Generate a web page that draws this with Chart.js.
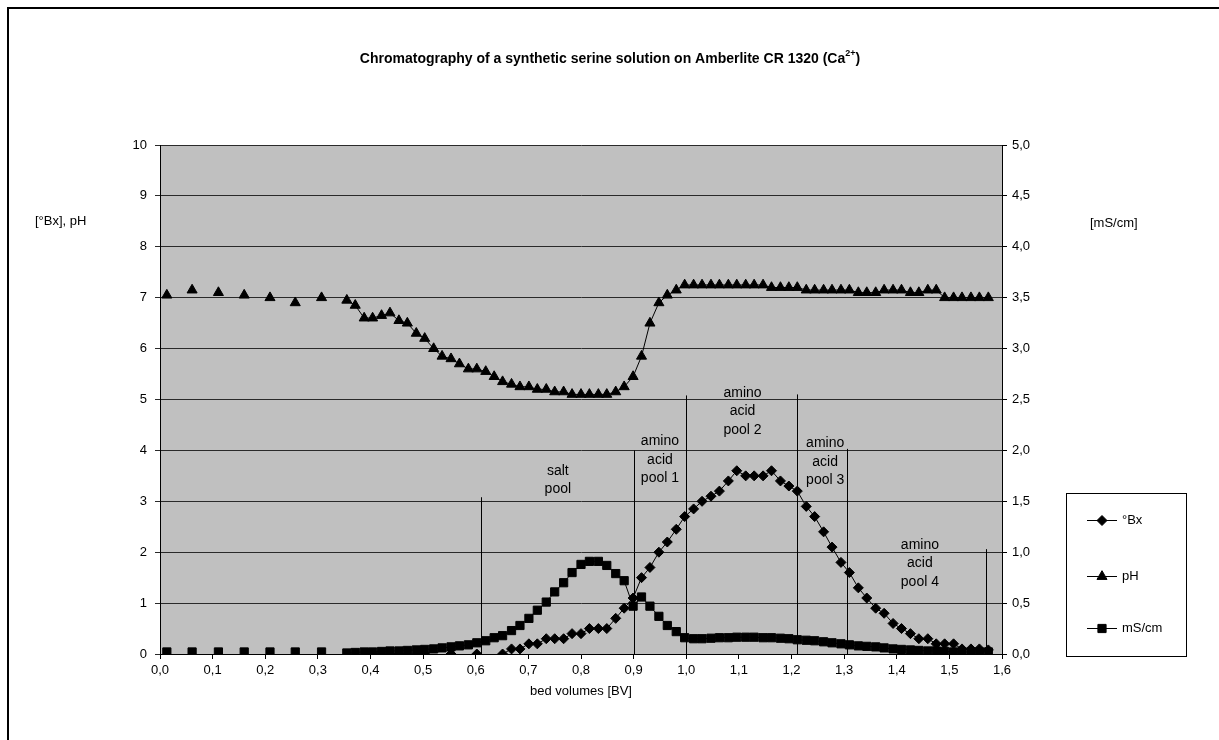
<!DOCTYPE html>
<html>
<head>
<meta charset="utf-8">
<script src="https://cdn.jsdelivr.net/npm/chart.js@4.4.1/dist/chart.umd.min.js"></script>
<style>
  html, body { margin: 0; padding: 0; background: #fff; overflow: hidden; }
  #frame { position: absolute; left: 7px; top: 7px; width: 1300px; height: 800px; border: 2px solid #000; }
  #wrap { position: absolute; left: 0; top: 0; width: 1219px; height: 740px; }
</style>
</head>
<body>
<div id="frame"></div>
<div id="wrap"><canvas id="chromChart" width="1219" height="740"></canvas></div>
<script>
// early single samples (not connected)
const earlyBV = [0.013, 0.061, 0.111, 0.160, 0.209, 0.257, 0.307];
const earlyPH = [7.05, 7.15, 7.1, 7.05, 7.0, 6.9, 7.0];
const earlyMS = [0.02, 0.02, 0.02, 0.02, 0.02, 0.02, 0.02];

// fraction samples
const bedVolumes = [
  0.355, 0.371, 0.388, 0.404, 0.421, 0.437, 0.454, 0.470, 0.487, 0.503,
  0.520, 0.536, 0.553, 0.569, 0.586, 0.602, 0.619, 0.635, 0.651, 0.668,
  0.684, 0.701, 0.717, 0.734, 0.750, 0.767, 0.783, 0.800, 0.816, 0.833,
  0.849, 0.866, 0.882, 0.899, 0.915, 0.931, 0.948, 0.964, 0.981, 0.997,
  1.014, 1.030, 1.047, 1.063, 1.080, 1.096, 1.113, 1.129, 1.146, 1.162,
  1.179, 1.195, 1.211, 1.228, 1.244, 1.261, 1.277, 1.294, 1.310, 1.327,
  1.343, 1.360, 1.376, 1.393, 1.409, 1.426, 1.442, 1.459, 1.475, 1.491,
  1.508, 1.524, 1.541, 1.557, 1.574
];
const bxValues = [
  null, null, null, 0, null, null, 0, null, null, 0,
  null, null, 0, null, null, 0, null, null, 0, 0.1,
  0.1, 0.2, 0.2, 0.3, 0.3, 0.3, 0.4, 0.4, 0.5, 0.5,
  0.5, 0.7, 0.9, 1.1, 1.5, 1.7, 2.0, 2.2, 2.45, 2.7,
  2.85, 3.0, 3.1, 3.2, 3.4, 3.6, 3.5, 3.5, 3.5, 3.6,
  3.4, 3.3, 3.2, 2.9, 2.7, 2.4, 2.1, 1.8, 1.6, 1.3,
  1.1, 0.9, 0.8, 0.6, 0.5, 0.4, 0.3, 0.3, 0.2, 0.2,
  0.2, 0.1, 0.1, 0.1, 0.08
];
const phValues = [
  6.95, 6.85, 6.6, 6.6, 6.65, 6.7, 6.55, 6.5, 6.3, 6.2,
  6.0, 5.85, 5.8, 5.7, 5.6, 5.6, 5.55, 5.45, 5.35, 5.3,
  5.25, 5.25, 5.2, 5.2, 5.15, 5.15, 5.1, 5.1, 5.1, 5.1,
  5.1, 5.15, 5.25, 5.45, 5.85, 6.5, 6.9, 7.05, 7.15, 7.25,
  7.25, 7.25, 7.25, 7.25, 7.25, 7.25, 7.25, 7.25, 7.25, 7.2,
  7.2, 7.2, 7.2, 7.15, 7.15, 7.15, 7.15, 7.15, 7.15, 7.1,
  7.1, 7.1, 7.15, 7.15, 7.15, 7.1, 7.1, 7.15, 7.15, 7.0,
  7.0, 7.0, 7.0, 7.0, 7.0
];
const msValues = [
  0.01, 0.015, 0.02, 0.02, 0.025, 0.03, 0.03, 0.035, 0.04, 0.045,
  0.05, 0.06, 0.07, 0.08, 0.09, 0.11, 0.13, 0.16, 0.18, 0.23,
  0.28, 0.35, 0.43, 0.51, 0.61, 0.70, 0.80, 0.88, 0.91, 0.91,
  0.87, 0.79, 0.72, 0.47, 0.56, 0.47, 0.37, 0.28, 0.22, 0.16,
  0.15, 0.15, 0.155, 0.16, 0.16, 0.165, 0.165, 0.165, 0.16, 0.16,
  0.155, 0.15, 0.14, 0.135, 0.13, 0.12, 0.11, 0.10, 0.09, 0.08,
  0.075, 0.07, 0.06, 0.05, 0.045, 0.04, 0.035, 0.03, 0.03, 0.025,
  0.02, 0.02, 0.02, 0.02, 0.02
];

// pool boundaries (BV) and how high the marker line goes (left axis units)
const poolBounds = [0.61, 0.9, 1.0, 1.21, 1.305, 1.57];
const poolBoundTops = [3.08, 4.0, 5.08, 5.1, 4.03, 2.06];
const poolLabels = [['salt', 'pool'], ['amino', 'acid', 'pool 1'], ['amino', 'acid', 'pool 2'], ['amino', 'acid', 'pool 3'], ['amino', 'acid', 'pool 4']];
const poolLabelX = [0.756, 0.95, 1.107, 1.264, 1.444];
const poolLabelY = [3.6, 4.18, 5.13, 4.14, 2.14];

const FONT = '"Liberation Sans", Arial, sans-serif';

function toPoints(xs, ys) {
  return xs.map((x, i) => ({ x: x, y: ys[i] }));
}
const comma = (v, d) => Number(v).toFixed(d).replace('.', ',');

// hide connecting lines between the sparse early samples
const gapSegment = {
  borderColor: c => (c.p1.parsed.x - c.p0.parsed.x > 0.03 ? 'rgba(0,0,0,0)' : '#000')
};

const plotBg = {
  id: 'plotBg',
  beforeDraw(chart) {
    const a = chart.chartArea, ctx = chart.ctx;
    ctx.save();
    ctx.fillStyle = '#c0c0c0';
    ctx.fillRect(a.left, a.top, a.right - a.left, a.bottom - a.top);
    ctx.restore();
  }
};

const poolMarks = {
  id: 'poolMarks',
  afterDatasetsDraw(chart) {
    const ctx = chart.ctx, xs = chart.scales.x, ys = chart.scales.y;
    ctx.save();
    ctx.strokeStyle = '#000';
    ctx.lineWidth = 1;
    poolBounds.forEach((b, i) => {
      const px = Math.round(xs.getPixelForValue(b)) + 0.5;
      ctx.beginPath();
      ctx.moveTo(px, ys.getPixelForValue(0));
      ctx.lineTo(px, ys.getPixelForValue(poolBoundTops[i]));
      ctx.stroke();
    });
    ctx.fillStyle = '#000';
    ctx.font = '14px ' + FONT;
    ctx.textAlign = 'center';
    ctx.textBaseline = 'middle';
    poolLabels.forEach((lines, i) => {
      const px = xs.getPixelForValue(poolLabelX[i]);
      const py = ys.getPixelForValue(poolLabelY[i]);
      lines.forEach((t, j) => ctx.fillText(t, px, py + j * 18.5));
    });
    ctx.restore();
  }
};

const texts = {
  id: 'texts',
  afterDraw(chart) {
    const ctx = chart.ctx;
    ctx.save();
    ctx.fillStyle = '#000';
    ctx.textBaseline = 'alphabetic';
    // title with superscript
    const main = 'Chromatography of a synthetic serine solution on Amberlite CR 1320 (Ca';
    ctx.font = 'bold 14px ' + FONT;
    const w1 = ctx.measureText(main).width;
    const w3 = ctx.measureText(')').width;
    ctx.font = 'bold 9px ' + FONT;
    const w2 = ctx.measureText('2+').width;
    let x = 610 - (w1 + w2 + w3) / 2;
    const y = 63;
    ctx.font = 'bold 14px ' + FONT;
    ctx.textAlign = 'left';
    ctx.fillText(main, x, y);
    ctx.font = 'bold 9px ' + FONT;
    ctx.fillText('2+', x + w1, y - 7);
    ctx.font = 'bold 14px ' + FONT;
    ctx.fillText(')', x + w1 + w2, y);

    // axis titles
    ctx.font = '13px ' + FONT;
    ctx.textBaseline = 'middle';
    ctx.fillText('[°Bx], pH', 35, 221);
    ctx.fillText('[mS/cm]', 1090, 223);
    ctx.textAlign = 'center';
    const a = chart.chartArea;
    ctx.fillText('bed volumes [BV]', (a.left + a.right) / 2, 691);

    // legend
    ctx.strokeStyle = '#000';
    ctx.lineWidth = 1;
    ctx.fillStyle = '#fff';
    ctx.fillRect(1066.5, 493.5, 120, 163);
    ctx.strokeRect(1066.5, 493.5, 120, 163);
    const rows = [520, 576, 628];
    chart.data.datasets.forEach((ds, i) => {
      const ly = rows[i] + 0.5;
      ctx.strokeStyle = '#000';
      ctx.beginPath();
      ctx.moveTo(1087, ly);
      ctx.lineTo(1117, ly);
      ctx.stroke();
      ctx.fillStyle = '#000';
      Chart.helpers.drawPoint(ctx, { pointStyle: ds.pointStyle, radius: ds.pointRadius, rotation: 0, borderWidth: 1 }, 1102, ly);
      ctx.textAlign = 'left';
      ctx.font = '13px ' + FONT;
      ctx.fillText(ds.label, 1122, ly);
    });
    ctx.restore();
  }
};

const bxPoints = toPoints(bedVolumes, bxValues).filter(p => p.y !== null);
const phPoints = toPoints(earlyBV, earlyPH).concat(toPoints(bedVolumes, phValues));
const msPoints = toPoints(earlyBV, earlyMS).concat(toPoints(bedVolumes, msValues));

const ctx = document.getElementById('chromChart').getContext('2d');
new Chart(ctx, {
  type: 'scatter',
  data: {
    datasets: [
      {
        label: '°Bx', data: bxPoints, yAxisID: 'y', showLine: true,
        borderColor: '#000', borderWidth: 1, backgroundColor: '#000',
        pointStyle: 'rectRot', pointRadius: 5, pointBorderWidth: 1, segment: gapSegment
      },
      {
        label: 'pH', data: phPoints, yAxisID: 'y', showLine: true,
        borderColor: '#000', borderWidth: 1, backgroundColor: '#000',
        pointStyle: 'triangle', pointRadius: 5.8, pointBorderWidth: 1, segment: gapSegment
      },
      {
        label: 'mS/cm', data: msPoints, yAxisID: 'y2', showLine: true,
        borderColor: '#000', borderWidth: 1, backgroundColor: '#000',
        pointStyle: 'rect', pointRadius: 5.8, pointBorderWidth: 1, segment: gapSegment
      }
    ]
  },
  options: {
    responsive: false,
    animation: false,
    layout: { padding: { left: 100, right: 157, top: 145, bottom: 46 } },
    plugins: {
      legend: { display: false },
      title: { display: false },
      tooltip: { enabled: false }
    },
    scales: {
      x: {
        type: 'linear', min: 0, max: 1.6,
        ticks: { stepSize: 0.1, color: '#000', padding: 4, font: { size: 13, family: FONT }, maxRotation: 0, callback: v => comma(v, 1) },
        grid: { drawOnChartArea: false, drawTicks: true, tickLength: 5, color: '#000' },
        border: { color: '#000' },
        afterFit: s => { s.height = 40; }
      },
      y: {
        position: 'left', min: 0, max: 10,
        ticks: { stepSize: 1, color: '#000', padding: 8, font: { size: 13, family: FONT } },
        grid: { color: '#2a2a2a', tickLength: 5 },
        border: { color: '#000' },
        afterFit: s => { s.width = 60; }
      },
      y2: {
        position: 'right', min: 0, max: 5,
        ticks: { stepSize: 0.5, color: '#000', padding: 5, font: { size: 13, family: FONT }, callback: v => comma(v, 1) },
        grid: { drawOnChartArea: false, tickLength: 5, color: '#000' },
        border: { color: '#000' },
        afterFit: s => { s.width = 60; }
      }
    }
  },
  plugins: [plotBg, poolMarks, texts]
});
</script>
</body>
</html>
